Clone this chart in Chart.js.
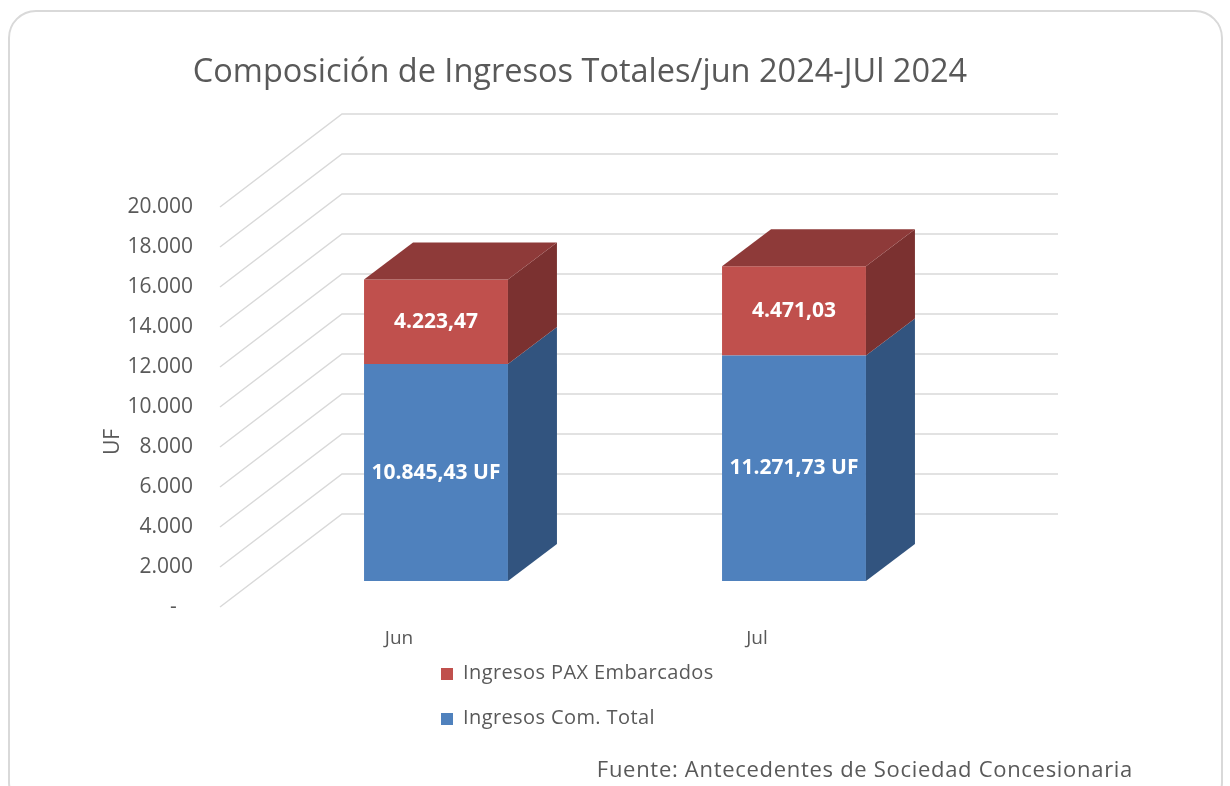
<!DOCTYPE html>
<html>
<head>
<meta charset="utf-8">
<script src="https://cdn.jsdelivr.net/npm/chart.js@4.4.1/dist/chart.umd.min.js"></script>
<style>
  body { margin: 0; background: #fff; overflow: hidden; }
  #wrap { position: relative; width: 1230px; height: 786px; font-family: "Open Sans", sans-serif; color: #595959; }
  #frame { position: absolute; left: 8px; top: 10px; width: 1215px; height: 800px; border: 2px solid #d9d9d9; border-radius: 28px; box-sizing: border-box; }
  #chart { position: absolute; left: 0; top: 0; }
  #title { position: absolute; left: 0; width: 1160px; top: 47px; text-align: center; font-size: 32.5px; white-space: nowrap; }
  #legend { position: absolute; left: 441px; top: 655px; font-size: 20px; letter-spacing: 0.4px; }
  #legend div { height: 45px; line-height: 34px; white-space: nowrap; }
  #legend span.box { display: inline-block; width: 12px; height: 12px; margin-right: 10px; vertical-align: -1px; }
  #source { position: absolute; right: 97px; top: 753px; font-size: 22px; letter-spacing: 0.7px; white-space: nowrap; }
</style>
</head>
<body>
<div id="wrap">
  <div id="frame"></div>
  <canvas id="chart" width="1230" height="786"></canvas>
  <div id="title">Composición de Ingresos Totales/jun 2024-JUl 2024</div>
  <div id="legend"></div>
  <div id="source">Fuente: Antecedentes de Sociedad Concesionaria</div>
</div>
<script>
// Datos del gráfico
const meses = ['Jun', 'Jul'];
const ingresosComTotal = [10845.43, 11271.73];
const ingresosPaxEmbarcados = [4223.47, 4471.03];
const nombresSeries = ['Ingresos Com. Total', 'Ingresos PAX Embarcados'];
const sufijoEtiqueta = [' UF', ''];
const ejeMax = 20000;
const ejePaso = 2000;

// Colores (frente, lado, techo)
const colorFrente = ['#4f81bd', '#c0504d'];
const colorLado = ['#32547f', '#7b3130'];
const colorTecho = ['#3d6696', '#8e3a39'];

// Desplazamientos de la perspectiva 3D
const PARED_DX = 122, PARED_DY = 93;
const FRENTE_DX = 37, FRENTE_DY = 26;
const PROF_DX = 49, PROF_DY = 37;

function formatoNum(v, dec) {
    const partes = v.toFixed(dec).split('.');
    partes[0] = partes[0].replace(/\B(?=(\d{3})+(?!\d))/g, '.');
    return partes.join(',');
}

function poligono(ctx, pts, color) {
    ctx.beginPath();
    ctx.moveTo(pts[0], pts[1]);
    for (let i = 2; i < pts.length; i += 2) ctx.lineTo(pts[i], pts[i + 1]);
    ctx.closePath();
    ctx.fillStyle = color;
    ctx.fill();
}

// Plugin para la grilla y las caras 3D de las barras
const barras3D = {
    id: 'barras3D',
    beforeDatasetsDraw(chart) {
        const { ctx, chartArea, scales } = chart;
        const y = scales.y;
        ctx.save();
        ctx.strokeStyle = '#d9d9d9';
        ctx.lineWidth = 1.5;
        y.ticks.forEach(t => {
            const py = y.getPixelForValue(t.value);
            ctx.beginPath();
            ctx.moveTo(chartArea.left, py);
            ctx.lineTo(chartArea.left + PARED_DX, py - PARED_DY);
            ctx.lineTo(chartArea.right + PARED_DX, py - PARED_DY);
            ctx.stroke();
        });
        ctx.restore();
        // las caras frontales se dibujan desplazadas hacia el fondo
        ctx.save();
        ctx.translate(FRENTE_DX, -FRENTE_DY);
    },
    afterDatasetsDraw(chart) {
        const ctx = chart.ctx;
        ctx.restore();
        const metas = chart.getSortedVisibleDatasetMetas();
        const etiquetas = [];
        metas.forEach((meta, k) => {
            meta.data.forEach((bar, i) => {
                const p = bar.getProps(['x', 'y', 'base', 'width'], true);
                const izq = p.x - p.width / 2 + FRENTE_DX;
                const der = p.x + p.width / 2 + FRENTE_DX;
                const arr = p.y - FRENTE_DY;
                const aba = p.base - FRENTE_DY;
                poligono(ctx, [der, arr, der + PROF_DX, arr - PROF_DY, der + PROF_DX, aba - PROF_DY, der, aba], colorLado[k]);
                if (k === metas.length - 1) {
                    poligono(ctx, [izq, arr, izq + PROF_DX, arr - PROF_DY, der + PROF_DX, arr - PROF_DY, der, arr], colorTecho[k]);
                }
                const valor = chart.data.datasets[meta.index].data[i];
                etiquetas.push([formatoNum(valor, 2) + sufijoEtiqueta[meta.index], (izq + der) / 2, (arr + aba) / 2]);
            });
        });
        ctx.save();
        ctx.fillStyle = '#ffffff';
        ctx.font = 'bold 21px "Open Sans"';
        ctx.textAlign = 'center';
        ctx.textBaseline = 'middle';
        etiquetas.forEach(e => ctx.fillText(e[0], e[1], e[2]));
        ctx.restore();
    },
    afterDraw(chart) {
        const ctx = chart.ctx;
        ctx.save();
        ctx.translate(113, 442);
        ctx.rotate(-Math.PI / 2);
        ctx.fillStyle = '#595959';
        ctx.font = '21px "Open Sans"';
        ctx.textAlign = 'center';
        ctx.textBaseline = 'middle';
        ctx.fillText('UF', 0, 0);
        ctx.restore();
    }
};

const grafico = new Chart(document.getElementById('chart'), {
    type: 'bar',
    data: {
        labels: meses,
        datasets: [
            { label: nombresSeries[0], data: ingresosComTotal, backgroundColor: colorFrente[0], clip: false },
            { label: nombresSeries[1], data: ingresosPaxEmbarcados, backgroundColor: colorFrente[1], clip: false }
        ]
    },
    options: {
        responsive: false,
        animation: false,
        events: [],
        layout: { padding: { left: 98, top: 207, right: 294, bottom: 129 } },
        datasets: { bar: { barPercentage: 0.402, categoryPercentage: 1 } },
        plugins: { legend: { display: false }, tooltip: { enabled: false } },
        scales: {
            x: {
                stacked: true,
                grid: { display: false, drawTicks: false },
                border: { display: false },
                ticks: { color: '#595959', font: { family: 'Open Sans', size: 19 }, padding: 20 },
                afterFit: s => { s.height = 50; }
            },
            y: {
                stacked: true,
                min: 0,
                max: ejeMax,
                grid: { display: false, drawTicks: false },
                border: { display: false },
                ticks: {
                    stepSize: ejePaso,
                    color: '#595959',
                    font: { family: 'Open Sans', size: 21 },
                    padding: 27,
                    callback: v => v === 0 ? '-   ' : formatoNum(v, 0)
                },
                afterFit: s => { s.width = 122; }
            }
        }
    },
    plugins: [barras3D]
});

// Leyenda HTML (orden invertido, como en el original)
const leyenda = document.getElementById('legend');
grafico.data.datasets.slice().reverse().forEach(ds => {
    const fila = document.createElement('div');
    fila.innerHTML = '<span class="box" style="background:' + ds.backgroundColor + '"></span>' + ds.label;
    leyenda.appendChild(fila);
});
</script>
</body>
</html>
